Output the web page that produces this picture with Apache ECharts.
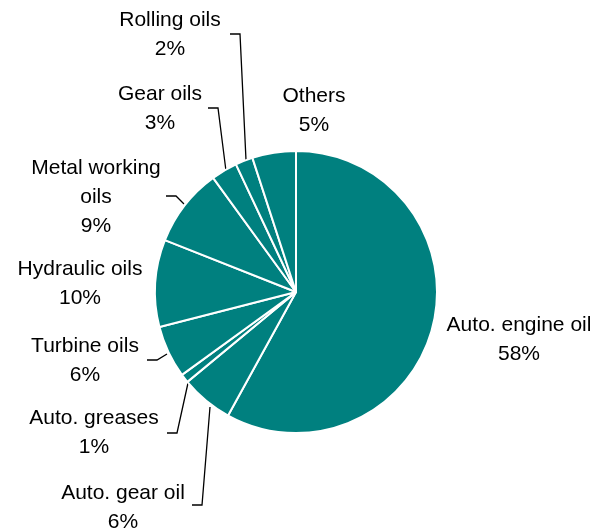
<!DOCTYPE html>
<html>
<head>
<meta charset="utf-8">
<script src="https://cdn.jsdelivr.net/npm/echarts@6/dist/echarts.min.js"></script>
<style>html,body{margin:0;padding:0;background:#fff;}#c{width:600px;height:530px;}</style>
</head>
<body>
<div id="c"></div>
<script>
const categories = ['Auto. engine oil','Auto. gear oil','Auto. greases','Turbine oils','Hydraulic oils','Metal working oils','Gear oils','Rolling oils','Others'];
const values = [58, 6, 1, 6, 10, 9, 3, 2, 5];
const labelNames = ['Auto. engine oil','Auto. gear oil','Auto. greases','Turbine oils','Hydraulic oils','Metal working\noils','Gear oils','Rolling oils','Others'];

// label placement (text centre) and leader-line paths
const labelPos = [
  {x: 519, y: 340, line: null},
  {x: 123, y: 508, line: [[210,407],[202,505],[192,505]]},
  {x: 94, y: 433, line: [[188,383],[177,433],[167,433]]},
  {x: 85, y: 361, line: [[167,354],[157,360],[147,360]]},
  {x: 80, y: 284, line: null},
  {x: 96, y: 197, line: [[184,204],[176,196],[166,196]]},
  {x: 160, y: 109, line: [[226,171],[218,108],[208,108]]},
  {x: 170, y: 35, line: [[246,160],[240,34],[230,34]]},
  {x: 314, y: 111, line: null}
];

const chart = echarts.init(document.getElementById('c'));
chart.setOption({
  animation: false,
  series: [{
    type: 'pie',
    center: [296, 292],
    radius: [0, 141],
    startAngle: 90,
    clockwise: true,
    avoidLabelOverlap: false,
    itemStyle: {color: '#00807f', borderColor: '#ffffff', borderWidth: 2},
    label: {
      show: true,
      fontFamily: 'Liberation Sans, Arial, sans-serif',
      fontSize: 21,
      lineHeight: 29,
      color: '#000',
      align: 'center',
      formatter: p => labelNames[p.dataIndex] + '\n' + p.value + '%'
    },
    labelLine: {show: true, lineStyle: {color: '#000', width: 1.3}},
    labelLayout: function (params) {
      const lp = labelPos[params.dataIndex];
      const r = {x: lp.x, y: lp.y, align: 'center', verticalAlign: 'middle'};
      if (lp.line) r.labelLinePoints = lp.line;
      return r;
    },
    data: categories.map((c, i) => ({
      name: c,
      value: values[i],
      labelLine: {show: !!labelPos[i].line}
    }))
  }]
});
</script>
</body>
</html>
